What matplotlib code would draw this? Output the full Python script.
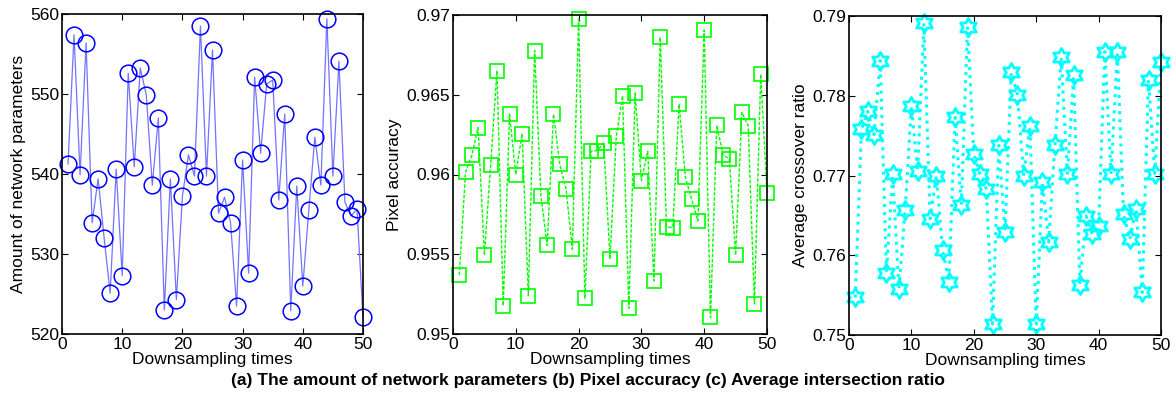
import numpy as np
import matplotlib
matplotlib.use("Agg")
import matplotlib.pyplot as plt
from matplotlib.path import Path

plt.rcParams['font.family'] = ['Liberation Sans', 'DejaVu Sans']

x = list(range(1, 51))

params = [541.25, 557.4, 539.9, 556.4, 533.9, 539.4, 532.0, 525.1, 540.6, 527.3,
          552.6, 540.9, 553.25, 549.9, 538.6, 547.0, 523.0, 539.4, 524.3, 537.2,
          542.4, 539.75, 558.5, 539.75, 555.5, 535.1, 537.1, 533.9, 523.5, 541.75,
          527.6, 552.1, 542.6, 551.25, 551.75, 536.75, 547.5, 522.9, 538.5, 526.0,
          535.5, 544.6, 538.6, 559.4, 539.75, 554.1, 536.5, 534.75, 535.6, 522.1]

pixel_acc = [0.95369, 0.96015, 0.96121, 0.96294, 0.95494, 0.96060, 0.96652, 0.95177, 0.96379, 0.96000,
             0.96256, 0.95240, 0.96777, 0.95865, 0.95556, 0.96379, 0.96063, 0.95910, 0.95531, 0.96975,
             0.95223, 0.96147, 0.96150, 0.96198, 0.95473, 0.96239, 0.96494, 0.95161, 0.96510, 0.95962,
             0.96146, 0.95333, 0.96860, 0.95671, 0.95667, 0.96442, 0.95983, 0.95844, 0.95708, 0.96906,
             0.95104, 0.96308, 0.96125, 0.96098, 0.95494, 0.96390, 0.96306, 0.95188, 0.96629, 0.95886]

crossover = [0.75471, 0.77583, 0.77804, 0.77513, 0.78442, 0.75779, 0.77013, 0.75575, 0.76563, 0.77875,
             0.77054, 0.78908, 0.76458, 0.77000, 0.76067, 0.75667, 0.77729, 0.76629, 0.78867, 0.77275,
             0.77013, 0.76833, 0.75138, 0.77379, 0.76296, 0.78292, 0.78013, 0.76992, 0.77617, 0.75138,
             0.76917, 0.76167, 0.77379, 0.78483, 0.77013, 0.78254, 0.75629, 0.76492, 0.76263, 0.76367,
             0.78554, 0.77013, 0.78554, 0.76513, 0.76200, 0.76583, 0.75533, 0.78200, 0.77025, 0.78429]

xticks = [0, 10, 20, 30, 40, 50]
yticks1 = [520, 530, 540, 550, 560]
yticks2 = [0.95, 0.955, 0.96, 0.965, 0.97]
yticks3 = [0.75, 0.76, 0.77, 0.78, 0.79]
ylabels = ["Amount of network parameters", "Pixel accuracy", "Average crossover ratio"]
xlabel = "Downsampling times"
caption = "(a) The amount of network parameters (b) Pixel accuracy (c) Average intersection ratio"

# hexagram marker
verts = []
for k in range(6):
    a1 = np.deg2rad(90 + 60 * k)
    a2 = np.deg2rad(120 + 60 * k)
    verts.append((np.cos(a1), np.sin(a1)))
    r = 1 / np.sqrt(3)
    verts.append((r * np.cos(a2), r * np.sin(a2)))
verts.append(verts[0])
codes = [Path.MOVETO] + [Path.LINETO] * 11 + [Path.CLOSEPOLY]
hexagram = Path(verts, codes)

W, H = 1176, 404
fig = plt.figure(figsize=(W / 100, H / 100), dpi=100)

def add_ax(l, r, t, b):
    return fig.add_axes([l / W, 1 - b / H, (r - l) / W, (b - t) / H])

ax1 = add_ax(62, 363, 14, 334)
ax2 = add_ax(453, 767, 15, 334)
ax3 = add_ax(849, 1161, 16, 335)

ax1.plot(x, params, color=(0.45, 0.45, 1.0), lw=0.9, marker='o', markersize=12,
         markerfacecolor='none', markeredgecolor='#0000ff', markeredgewidth=1.1, clip_on=False)
ax2.plot(x, pixel_acc, color='#00ff00', lw=1.0, ls='--', dashes=(2.5, 1.2), marker='s', markersize=9.5,
         markerfacecolor='none', markeredgecolor='#00ff00', markeredgewidth=1.2, clip_on=False)
ax3.plot(x, crossover, color='#00ffff', lw=2.2, ls=':', marker=hexagram, markersize=13,
         markerfacecolor='none', markeredgecolor='#00ffff', markeredgewidth=2.0, clip_on=False)

for ax, yt, yl, ylim in [(ax1, yticks1, ylabels[0], (520, 560)),
                          (ax2, yticks2, ylabels[1], (0.95, 0.97)),
                          (ax3, yticks3, ylabels[2], (0.75, 0.79))]:
    ax.set_xlim(0, 50)
    ax.set_ylim(*ylim)
    ax.set_xticks(xticks)
    ax.set_yticks(yt)
    ax.set_yticklabels([f"{v:g}" for v in yt])
    ax.tick_params(direction='in', top=True, right=True, length=4, width=0.8,
                   labelsize=12.5, pad=2)
    ax.set_xlabel(xlabel, fontsize=12.5, labelpad=0)
    ax.set_ylabel(yl, fontsize=12.5, labelpad=3)
    for s in ax.spines.values():
        s.set_linewidth(1.2)

fig.text(0.5, 1 - 380 / H, caption, ha='center', va='center', fontsize=12.5, fontweight='bold')

fig.savefig("out.png", dpi=100)
